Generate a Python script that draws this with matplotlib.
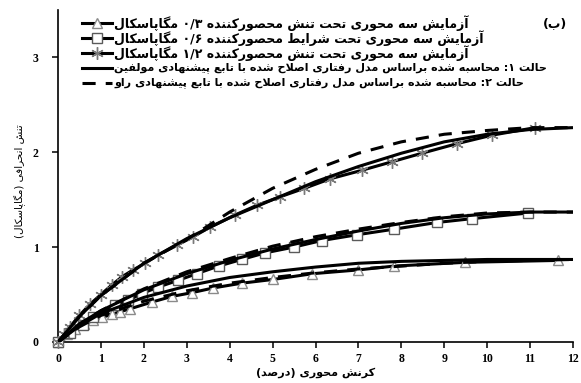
import re
import matplotlib
matplotlib.use("Agg")
import matplotlib.pyplot as plt
from matplotlib.lines import Line2D

# -----------------------------
# Data: deviator stress (MPa) vs axial strain (%)
# -----------------------------
# triaxial test, confining stress 0.3 MPa
strain_03 = [0, 0.2, 0.4, 0.6, 0.82, 1.02, 1.25, 1.45, 1.68, 2.18, 2.65, 3.12,
             3.62, 4.28, 5.02, 5.93, 7.0, 7.82, 9.49, 11.66]
stress_03 = [0, 0.08, 0.14, 0.19, 0.23, 0.26, 0.29, 0.32, 0.35, 0.42, 0.48, 0.52,
             0.57, 0.62, 0.66, 0.72, 0.76, 0.80, 0.84, 0.86]

# triaxial test, confining stress 0.6 MPa
strain_06 = [0, 0.28, 0.59, 0.82, 1.33, 1.64, 1.95, 2.34, 2.80, 3.23, 3.74, 4.28,
             4.83, 5.49, 6.15, 6.96, 7.84, 8.83, 9.64, 10.96]
stress_06 = [0, 0.10, 0.18, 0.26, 0.39, 0.44, 0.51, 0.58, 0.65, 0.72, 0.80, 0.87,
             0.94, 1.00, 1.07, 1.13, 1.19, 1.26, 1.30, 1.36]

# triaxial test, confining stress 1.2 MPa
strain_12 = [0, 0.15, 0.28, 0.5, 0.75, 1.0, 1.25, 1.5, 1.75, 2.03, 2.34, 2.77,
             3.15, 3.54, 4.13, 4.63, 5.17, 5.74, 6.34, 7.08, 7.78, 8.48, 9.29,
             10.11, 11.12]
stress_12 = [0, 0.08, 0.16, 0.28, 0.40, 0.50, 0.60, 0.69, 0.76, 0.83, 0.92, 1.02,
             1.11, 1.21, 1.34, 1.44, 1.53, 1.62, 1.72, 1.81, 1.90, 1.99, 2.09,
             2.18, 2.26]

# model curves (case 1: authors' function, case 2: Rao's function)
strain_model = [0, 0.5, 1, 2, 3, 4, 5, 6, 7, 8, 9, 10, 11, 12]
case1_03 = [0, 0.17, 0.30, 0.47, 0.59, 0.68, 0.74, 0.79, 0.83, 0.85, 0.86, 0.87, 0.87, 0.87]
case2_03 = [0, 0.16, 0.28, 0.43, 0.54, 0.62, 0.68, 0.73, 0.77, 0.80, 0.83, 0.85, 0.86, 0.87]
case1_06 = [0, 0.19, 0.33, 0.55, 0.72, 0.86, 0.98, 1.08, 1.17, 1.25, 1.31, 1.35, 1.37, 1.37]
case2_06 = [0, 0.19, 0.33, 0.56, 0.74, 0.88, 1.01, 1.11, 1.19, 1.26, 1.32, 1.36, 1.37, 1.37]
case1_12 = [0, 0.27, 0.49, 0.83, 1.09, 1.31, 1.50, 1.69, 1.85, 1.99, 2.11, 2.19, 2.24, 2.26]
case2_12 = [0, 0.27, 0.49, 0.83, 1.08, 1.37, 1.62, 1.82, 1.99, 2.11, 2.19, 2.23, 2.26, 2.26]

xticks = list(range(0, 13))
yticks = [0, 1, 2, 3]

legend_labels = [
    'آزمایش سه محوری تحت تنش محصورکننده ۰/۳ مگاپاسکال',
    'آزمایش سه محوری تحت شرایط محصورکننده ۰/۶ مگاپاسکال',
    'آزمایش سه محوری تحت تنش محصورکننده ۱/۲ مگاپاسکال',
    'حالت ۱: محاسبه شده براساس مدل رفتاری اصلاح شده با تابع پیشنهادی مولفین',
    'حالت ۲: محاسبه شده براساس مدل رفتاری اصلاح شده با تابع پیشنهادی راو',
]
xlabel = 'کرنش محوری (درصد)'
ylabel = 'تنش انحرافی (مگاپاسکال)'
panel = '(ب)'

# -----------------------------
# Persian shaping (matplotlib draws glyphs left to right, no joining)
# -----------------------------
FORMS = {
    'ا': ('\uFE8D', '\uFE8E'),
    'آ': ('\uFE81', '\uFE82'),
    'ب': ('\uFE8F', '\uFE90', '\uFE91', '\uFE92'),
    'پ': ('\uFB56', '\uFB57', '\uFB58', '\uFB59'),
    'ت': ('\uFE95', '\uFE96', '\uFE97', '\uFE98'),
    'ح': ('\uFEA1', '\uFEA2', '\uFEA3', '\uFEA4'),
    'د': ('\uFEA9', '\uFEAA'),
    'ر': ('\uFEAD', '\uFEAE'),
    'ز': ('\uFEAF', '\uFEB0'),
    'س': ('\uFEB1', '\uFEB2', '\uFEB3', '\uFEB4'),
    'ش': ('\uFEB5', '\uFEB6', '\uFEB7', '\uFEB8'),
    'ص': ('\uFEB9', '\uFEBA', '\uFEBB', '\uFEBC'),
    'ط': ('\uFEC1', '\uFEC2', '\uFEC3', '\uFEC4'),
    'ع': ('\uFEC9', '\uFECA', '\uFECB', '\uFECC'),
    'ف': ('\uFED1', '\uFED2', '\uFED3', '\uFED4'),
    'ک': ('\uFB8E', '\uFB8F', '\uFB90', '\uFB91'),
    'گ': ('\uFB92', '\uFB93', '\uFB94', '\uFB95'),
    'ل': ('\uFEDD', '\uFEDE', '\uFEDF', '\uFEE0'),
    'م': ('\uFEE1', '\uFEE2', '\uFEE3', '\uFEE4'),
    'ن': ('\uFEE5', '\uFEE6', '\uFEE7', '\uFEE8'),
    'و': ('\uFEED', '\uFEEE'),
    'ه': ('\uFEE9', '\uFEEA', '\uFEEB', '\uFEEC'),
    'ی': ('\uFBFC', '\uFBFD', '\uFBFE', '\uFBFF'),
}
LAM_ALEF = {'ا': ('\uFEFB', '\uFEFC'), 'آ': ('\uFEF5', '\uFEF6')}
MIRROR = {'(': ')', ')': '('}


def shape(s):
    out = []
    i = 0
    while i < len(s):
        c = s[i]
        if c not in FORMS:
            out.append(c)
            i += 1
            continue
        prev = s[i - 1] if i > 0 else ''
        joined_before = len(FORMS.get(prev, ())) == 4
        if c == 'ل' and i + 1 < len(s) and s[i + 1] in LAM_ALEF:
            out.append(LAM_ALEF[s[i + 1]][joined_before])
            i += 2
            continue
        f = FORMS[c]
        nxt = s[i + 1] if i + 1 < len(s) else ''
        joined_after = len(f) == 4 and nxt in FORMS
        if joined_before and joined_after:
            out.append(f[3])
        elif joined_before:
            out.append(f[1])
        elif joined_after:
            out.append(f[2])
        else:
            out.append(f[0])
        i += 1
    return ''.join(out)


def fa(s):
    # shape, then lay out right-to-left keeping number runs in order
    tokens = re.findall(r'[۰-۹]+(?:/[۰-۹]+)*|.', shape(s))
    return ''.join(MIRROR.get(t, t) for t in reversed(tokens))


# -----------------------------
# Plot
# -----------------------------
W, H = 581, 383
fig = plt.figure(figsize=(W / 100, H / 100), dpi=100)
ax = fig.add_axes([58 / W, 41 / H, 515 / W, 332 / H])

lw = 2.2
dash = (0, (4.3, 3.3))
tri = dict(marker='^', ms=7.5, mfc='white', mec='#8a8a8a', mew=1.0)
sq = dict(marker='s', ms=7.5, mfc='white', mec='#5a5a5a', mew=1.0)
star = dict(marker=(6, 2, 0), ms=9, mec='#7a7a7a', mew=1.0)

for sx, sy, mk in [(strain_03, stress_03, tri), (strain_06, stress_06, sq),
                   (strain_12, stress_12, star)]:
    ax.plot(sx, sy, color='black', lw=lw, clip_on=False, zorder=3, **mk)

for c1, c2 in [(case1_03, case2_03), (case1_06, case2_06), (case1_12, case2_12)]:
    ax.plot(strain_model, c1, color='black', lw=lw, zorder=4, solid_capstyle='butt')
    ax.plot(strain_model, c2, color='black', lw=lw, ls=dash, zorder=4)

ax.set_xlim(0, 12)
ax.set_ylim(0, 3.5)
ax.set_xticks(xticks)
ax.set_yticks(yticks)
for side in ['top', 'right']:
    ax.spines[side].set_visible(False)
for side in ['left', 'bottom']:
    ax.spines[side].set_linewidth(1.2)
ax.tick_params(direction='out', length=4, width=1.1, pad=4)
ax.tick_params(axis='y', pad=10)
for lab in ax.get_xticklabels() + ax.get_yticklabels():
    lab.set_fontfamily('Liberation Serif')
    lab.set_fontweight('bold')
    lab.set_fontsize(8.5)

ax.set_xlabel(fa(xlabel), fontsize=8, fontweight='bold')
ax.xaxis.set_label_coords(0.5, -(373 - 342) / 332)
ax.xaxis.label.set_va('center')
ax.set_ylabel(fa(ylabel), fontsize=7.5)
ax.yaxis.set_label_coords(-(58 - 20) / 515, (342 - 181) / 332)
ax.yaxis.label.set_va('center')

fig.text(555 / W, 1 - 24 / H, fa(panel), fontsize=9, fontweight='bold',
         ha='center', va='center')

# -----------------------------
# Legend, drawn row by row
# -----------------------------
handles = [
    dict(ls='-', **tri),
    dict(ls='-', **sq),
    dict(ls='-', **star),
    dict(ls='-'),
    dict(ls=dash),
]
label_sizes = [9, 9, 9, 8, 8]
for i, (hd, text, fs) in enumerate(zip(handles, legend_labels, label_sizes)):
    y = 1 - (23 + 15 * i) / H
    fig.add_artist(Line2D([82 / W, 112 / W], [y, y], color='black', lw=lw,
                          transform=fig.transFigure,
                          **{k: v for k, v in hd.items() if not k.startswith('m')}))
    if 'marker' in hd:
        fig.add_artist(Line2D([97 / W], [y], ls='none', transform=fig.transFigure,
                              **{k: v for k, v in hd.items() if k.startswith('m')}))
    fig.text(114 / W, y, fa(text), fontsize=fs, fontweight='bold',
             ha='left', va='center')

fig.savefig("out.png", dpi=100)
